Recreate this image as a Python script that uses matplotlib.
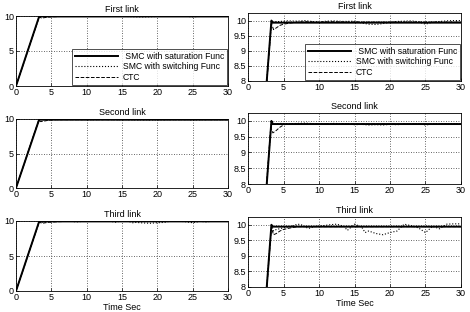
import matplotlib
matplotlib.use("Agg")
import matplotlib.pyplot as plt

plt.rcParams['font.family'] = ['Liberation Sans', 'DejaVu Sans']

titles = ["First link", "Second link", "Third link"]
legend_labels = [" SMC with saturation Func", "SMC with switching Func", "CTC"]
xticks = [0, 5, 10, 15, 20, 25, 30]

# link 1
sat1_t = [0, 3.3, 3.45, 30]
sat1_y = [0, 10.0, 9.93, 9.93]
sw1_t = [0, 3.3, 3.6, 4.5, 5.5, 7, 8, 9, 10, 11, 12, 13.5, 15, 16, 17, 18, 19, 20,
         21, 22, 23, 24, 25, 26, 27, 28, 29, 30]
sw1_y = [0, 10.0, 9.95, 9.97, 9.99, 9.98, 10.0, 9.97, 9.94, 9.98, 9.99, 9.97, 9.98,
         9.92, 9.88, 9.87, 9.9, 9.94, 9.97, 9.98, 9.99, 9.96, 9.88, 9.95, 9.97, 9.99,
         10.0, 10.0]
ctc1_t = [0, 3.3, 3.6, 4.0, 4.5, 5, 6, 7, 8, 10, 12, 14, 30]
ctc1_y = [0, 9.9, 9.7, 9.76, 9.84, 9.88, 9.92, 9.95, 9.96, 9.95, 9.96, 9.95, 9.95]

# link 2
sat2_t = [0, 3.3, 3.45, 30]
sat2_y = [0, 10.0, 9.9, 9.9]
sw2_t = [0, 3.3, 3.6, 4.5, 6, 8, 10, 12, 14, 15, 16, 17, 18, 19, 20, 21, 22, 24, 25,
         26, 28, 30]
sw2_y = [0, 10.0, 9.9, 9.92, 9.91, 9.93, 9.9, 9.92, 9.91, 9.88, 9.89, 9.87, 9.88,
         9.87, 9.89, 9.88, 9.9, 9.91, 9.87, 9.9, 9.91, 9.91]
ctc2_t = [0, 3.2, 3.5, 4.0, 4.5, 5, 5.5, 30]
ctc2_y = [0, 9.8, 9.62, 9.7, 9.8, 9.87, 9.9, 9.9]

# link 3
sat3_t = [0, 3.3, 3.45, 30]
sat3_y = [0, 10.0, 9.94, 9.94]
sw3_t = [0, 3.3, 3.6, 4, 5, 6, 7, 7.5, 8.5, 9.5, 10.5, 11.5, 12.5, 13.5, 14, 15, 16,
         16.5, 17, 18, 19, 20, 21, 22, 23, 24, 25, 25.5, 26, 27, 27.5, 28, 29, 30]
sw3_y = [0, 10.0, 9.8, 9.85, 9.9, 9.95, 10.02, 10.0, 9.88, 9.95, 9.97, 10.0, 10.02,
         9.95, 9.82, 10.02, 9.93, 9.75, 9.8, 9.72, 9.68, 9.75, 9.8, 10.02, 9.97, 9.9,
         9.75, 9.85, 9.95, 9.87, 9.95, 10.02, 10.03, 10.03]
ctc3_t = [0, 3.3, 3.6, 4, 4.5, 5, 6, 7, 30]
ctc3_y = [0, 9.9, 9.68, 9.72, 9.8, 9.85, 9.9, 9.94, 9.94]

links = [
    (sat1_t, sat1_y, sw1_t, sw1_y, ctc1_t, ctc1_y),
    (sat2_t, sat2_y, sw2_t, sw2_y, ctc2_t, ctc2_y),
    (sat3_t, sat3_y, sw3_t, sw3_y, ctc3_t, ctc3_y),
]

W, H = 470, 312
fig = plt.figure(figsize=(W / 100, H / 100), dpi=100)

# pixel boxes (left, top, right, bottom)
left_boxes = [(16, 16, 228, 86), (16, 119, 228, 188), (16, 221, 228, 291)]
right_boxes = [(248, 13, 461, 81), (248, 113, 461, 184), (248, 217, 461, 287)]


def make_ax(box):
    l, t, r, b = box
    return fig.add_axes([l / W, 1 - b / H, (r - l) / W, (b - t) / H])


def style(ax, title, yticks, ylim, ylabels):
    ax.set_xlim(0, 30)
    ax.set_ylim(*ylim)
    ax.set_xticks(xticks)
    ax.set_yticks(yticks)
    ax.set_yticklabels(ylabels)
    ax.tick_params(direction="in", length=2, width=0.5, labelsize=6.5, pad=1.5)
    ax.grid(True, color="#333333", linestyle=(0, (1, 2)), linewidth=0.6)
    for s in ax.spines.values():
        s.set_linewidth(0.6)
    ax.set_title(title, fontsize=6.5, pad=3)


for i, (st, sy, wt, wy, ct, cy) in enumerate(links):
    for col, box in enumerate([left_boxes[i], right_boxes[i]]):
        ax = make_ax(box)
        ax.plot(st, sy, color="black", linewidth=1.4, label=legend_labels[0])
        ax.plot(wt, wy, color="black", linestyle=":", linewidth=0.8, label=legend_labels[1])
        ax.plot(ct, cy, color="black", linestyle="--", linewidth=0.7, label=legend_labels[2])
        if col == 0:
            style(ax, titles[i], [0, 5, 10], (0, 10), ["0", "5", "10"])
        else:
            style(ax, titles[i], [8, 8.5, 9, 9.5, 10], (8, 10.25),
                  ["8", "8.5", "9", "9.5", "10"])
        if i == 2:
            ax.set_xlabel("Time Sec", fontsize=6.5, labelpad=1)
        if i == 0:
            leg = ax.legend(loc="lower right", fontsize=6.2, frameon=True, fancybox=False,
                            handlelength=5, borderaxespad=0.15, labelspacing=0.2,
                            borderpad=0.3, handletextpad=0.6)
            leg.get_frame().set_edgecolor("black")
            leg.get_frame().set_linewidth(0.6)

fig.savefig("out.png", dpi=100)
